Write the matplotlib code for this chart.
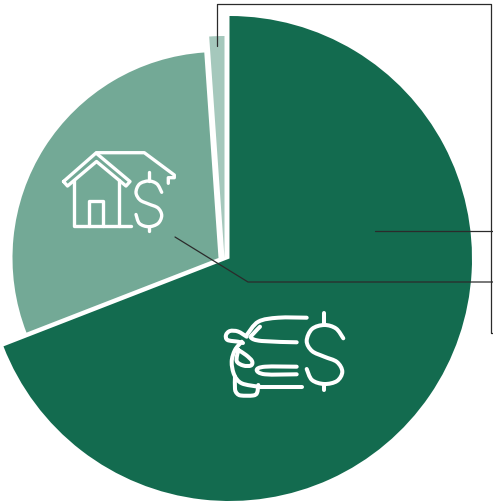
import numpy as np
import matplotlib
matplotlib.use("Agg")
import matplotlib.pyplot as plt
from matplotlib.patches import Wedge, PathPatch
from matplotlib.path import Path

shares = [69.1, 29.8, 1.1]
colors = ["#136B4F", "#73A996", "#A5C8BC"]
centers = [(229.5, 258.5), (218.5, 258), (224.5, 258)]
radii = [242.5, 206, 222]

W, H = 493, 501
LEADER = "#2b2b2b"
HOUSE_LW = 2.4
CAR_LW = 2.9

fig = plt.figure(figsize=(W / 100, H / 100), dpi=100)
ax = fig.add_axes([0, 0, 1, 1])
ax.set_xlim(0, W)
ax.set_ylim(H, 0)
ax.axis("off")


def line(points, color="white", lw=HOUSE_LW, closed=False, z=5):
    xs = [p[0] for p in points]
    ys = [p[1] for p in points]
    if closed:
        xs.append(xs[0])
        ys.append(ys[0])
    ax.plot(xs, ys, color=color, lw=lw, solid_joinstyle="round",
            solid_capstyle="round", zorder=z)


def smooth(points, lw=HOUSE_LW):
    # curve through the points, used for the rounded outlines
    pts = np.array(points, dtype=float)
    verts = [pts[0]]
    codes = [Path.MOVETO]
    for i in range(len(pts) - 1):
        p0 = pts[max(i - 1, 0)]
        p1 = pts[i]
        p2 = pts[i + 1]
        p3 = pts[min(i + 2, len(pts) - 1)]
        verts += [p1 + (p2 - p0) / 6, p2 - (p3 - p1) / 6, p2]
        codes += [Path.CURVE4] * 3
    ax.add_patch(PathPatch(Path(verts, codes), fc="none", ec="white", lw=lw,
                           capstyle="round", joinstyle="round", zorder=5))


# the y axis is flipped, so angles run clockwise from the +x direction
start = -90.0
for share, color, center, radius in zip(shares, colors, centers, radii):
    sweep = share * 3.6
    ax.add_patch(Wedge(center, radius, start, start + sweep, fc=color, ec="none", zorder=2))
    start += sweep

# leader lines
line([(217, 46), (217, 4), (491, 4), (491, 333), (493, 333)], LEADER, 0.9, z=6)
line([(375, 231), (493, 231)], LEADER, 0.9, z=6)
line([(175, 237), (248, 282), (493, 282)], LEADER, 0.9, z=6)

# house icon
line([(63.5, 181.5), (96, 153), (130, 181.5), (126, 186), (96.5, 161.5), (67.5, 186)], closed=True)
line([(96.5, 152.7), (144.3, 152.7), (174.3, 175), (174.3, 177.7), (168.3, 177.7), (168.3, 183.3)])
line([(74, 180), (74, 226), (131, 226)])
line([(119, 180), (119, 226)])
line([(89.3, 226), (89.3, 200.7), (103.3, 200.7), (103.3, 226)])
line([(148.7, 172.3), (148.7, 181)])
line([(148.7, 226.7), (148.7, 230.7)])
smooth([(161.7, 192.3), (157, 184), (148.7, 181), (139.5, 184), (136, 192.5), (140, 200),
        (148.7, 204), (158, 208), (161.7, 215.5), (158, 223.5), (148.7, 226.7), (139.5, 223.5), (136, 214.5)])

# car icon
smooth([(306.7, 317.7), (278.3, 317.7), (258.3, 321.7), (246.7, 335)], CAR_LW)
smooth([(246.7, 336.7), (238, 331.5), (230, 331), (226, 335), (227.5, 340), (238, 341.7), (243, 343)], CAR_LW)
smooth([(241.7, 341.7), (235, 350), (231.7, 361.7), (234.3, 375), (241.7, 383.3), (258.3, 386.7)], CAR_LW)
line([(258.3, 386.7), (302.3, 386.7)], lw=CAR_LW)
smooth([(235, 376.7), (235, 389), (237, 393.5), (241, 395.5), (253, 395.5), (257, 393), (258.3, 385)], CAR_LW)
smooth([(260, 326.7), (254, 333), (251, 337.7), (261.7, 341), (296.7, 342.3)], CAR_LW)
smooth([(238.3, 350), (246, 355), (252, 361), (251, 365.5), (243.3, 365.5), (236.7, 361), (238.3, 350)], CAR_LW)
smooth([(296.7, 366.7), (265, 366.7), (256.7, 370), (265, 374.3), (296.7, 374.3)], CAR_LW)
line([(324.3, 313.3), (324.3, 325)], lw=CAR_LW)
line([(324.3, 384), (324.3, 390)], lw=CAR_LW)
smooth([(343.3, 338.3), (336, 328.5), (324.3, 325), (312, 329), (306.7, 341), (312, 351),
        (324.3, 356.7), (337, 362), (342.3, 371.7), (337, 381), (324.3, 384), (312, 380), (306.7, 369)], CAR_LW)

fig.savefig("out.png", dpi=100)
